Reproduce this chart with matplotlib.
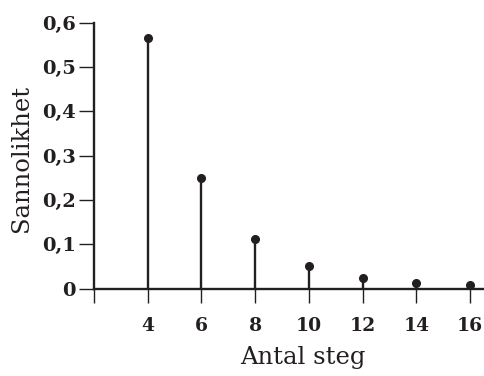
import matplotlib.pyplot as plt

# number of steps and the probability of each
steg = [4, 6, 8, 10, 12, 14, 16]
sannolikhet = [0.565, 0.25, 0.113, 0.052, 0.025, 0.014, 0.009]

y_ticks = [0, 0.1, 0.2, 0.3, 0.4, 0.5, 0.6]
y_labels = ['0', '0,1', '0,2', '0,3', '0,4', '0,5', '0,6']
x_ticks = [2, 4, 6, 8, 10, 12, 14, 16]
x_labels = ['', '4', '6', '8', '10', '12', '14', '16']

ink = '#231f20'
plt.rcParams['font.family'] = 'DejaVu Serif'

fig = plt.figure(figsize=(4.85, 3.76), dpi=100)
ax = fig.add_axes([0.194, 0.232, 0.806, 0.708])

ax.vlines(steg, 0, sannolikhet, color=ink, linewidth=1.7)
ax.plot(steg, sannolikhet, 'o', color=ink, markersize=5.5, clip_on=False)

ax.set_xlim(2, 16.56)
ax.set_ylim(0, 0.6)
ax.set_xticks(x_ticks)
ax.set_xticklabels(x_labels, fontsize=13.5, fontweight='bold')
ax.set_yticks(y_ticks)
ax.set_yticklabels(y_labels, fontsize=14, fontweight='bold')

for side in ['top', 'right']:
    ax.spines[side].set_visible(False)
for side in ['left', 'bottom']:
    ax.spines[side].set_linewidth(1.7)
    ax.spines[side].set_color(ink)

ax.tick_params(axis='y', length=11, width=1.0, color=ink, pad=2, labelcolor=ink)
ax.tick_params(axis='x', length=10, width=1.0, color=ink, pad=10, labelcolor=ink)

ax.set_xlabel('Antal steg', fontsize=17.5, color=ink)
ax.xaxis.set_label_coords(0.535, -0.215)
ax.set_ylabel('Sannolikhet', fontsize=17.5, color=ink)
ax.yaxis.set_label_coords(-0.156, 0.49)

fig.savefig('out.png', dpi=100)
